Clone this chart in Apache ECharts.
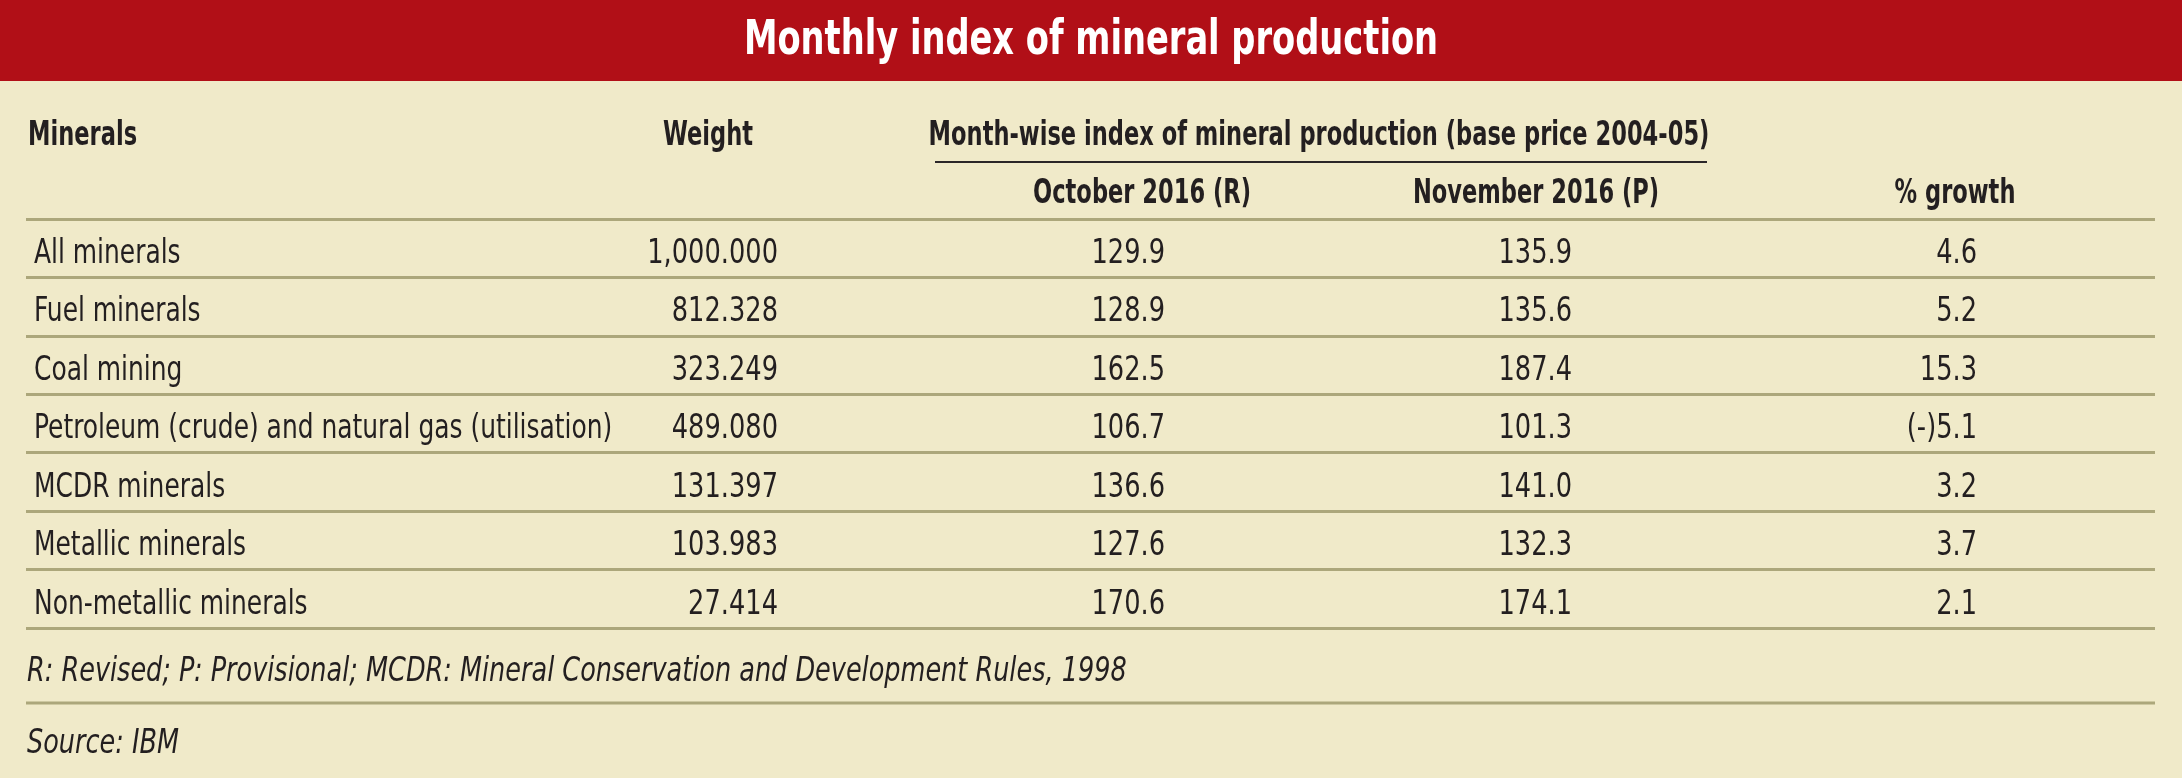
<!DOCTYPE html>
<html>
<head>
<meta charset="utf-8">
<title>Monthly index of mineral production</title>
<script src="https://cdn.jsdelivr.net/npm/echarts@6/dist/echarts.min.js"></script>
<style>
  html, body { margin: 0; padding: 0; background: #f0eac9; }
  #main { width: 2182px; height: 778px; }
</style>
</head>
<body>
<div id="main"></div>
<script>
// table data
var minerals = ['All minerals', 'Fuel minerals', 'Coal mining',
    'Petroleum (crude) and natural gas (utilisation)', 'MCDR minerals',
    'Metallic minerals', 'Non-metallic minerals'];
var weight = [1000.000, 812.328, 323.249, 489.080, 131.397, 103.983, 27.414];
var oct2016 = [129.9, 128.9, 162.5, 106.7, 136.6, 127.6, 170.6];
var nov2016 = [135.9, 135.6, 187.4, 101.3, 141.0, 132.3, 174.1];
var growth = [4.6, 5.2, 15.3, -5.1, 3.2, 3.7, 2.1];
var colHeads = ['October 2016 (R)', 'November 2016 (P)', '% growth'];

// no condensed webfont here, so squeeze DejaVu Condensed horizontally
var font = "'Liberation Sans Narrow', 'DejaVu Sans Condensed', 'Roboto', sans-serif";
var ink = '#231f20';
var rule = '#aca77b';
var labelSqueeze = 0.815, numSqueeze = 0.84, headSqueeze = 0.76, noteSqueeze = 0.86;

// column anchors (px from grid left) and text alignment
var colX = [8, 752, 1139, 1546, 1951];
var colAlign = ['left', 'right', 'right', 'right', 'right'];

function fmtWeight(v) {
    var s = v.toFixed(3).split('.');
    s[0] = s[0].replace(/\B(?=(\d{3})+(?!\d))/g, ',');
    return s.join('.');
}
function fmtGrowth(v) {
    return v < 0 ? '(-)' + Math.abs(v).toFixed(1) : v.toFixed(1);
}
function cellText(c, r) {
    if (c == 0) return minerals[r];
    if (c == 1) return fmtWeight(weight[r]);
    if (c == 2) return oct2016[r].toFixed(1);
    if (c == 3) return nov2016[r].toFixed(1);
    return fmtGrowth(growth[r]);
}

function head(text, x, y, align) {
    return {
        type: 'text', x: x, y: y, scaleX: headSqueeze,
        style: { text: text, font: 'bold 33px ' + font, fill: ink, textAlign: align, textVerticalAlign: 'middle' }
    };
}
function note(text, y) {
    return {
        type: 'text', x: 27, y: y, scaleX: noteSqueeze,
        style: { text: text, font: 'italic 33px ' + font, fill: ink, textVerticalAlign: 'middle' }
    };
}

var cells = [];
for (var r = 0; r < minerals.length; r++) {
    for (var c = 0; c < 5; c++) cells.push([c, r]);
}

var chart = echarts.init(document.getElementById('main'), null, { renderer: 'canvas' });

var option = {
    backgroundColor: '#f0eac9',
    animation: false,
    grid: { left: 26, right: 27, top: 219, height: 409 },
    xAxis: { type: 'value', min: 0, max: 2129, show: false },
    yAxis: {
        type: 'category',
        data: minerals,
        inverse: true,
        axisLine: { show: false },
        axisTick: { show: false },
        axisLabel: { show: false },
        splitLine: { show: true, lineStyle: { color: rule, width: 3 } }
    },
    graphic: [
        { type: 'rect', z: -10, shape: { x: 0, y: 0, width: 2182, height: 81 }, style: { fill: '#b10f17' } },
        {
            type: 'text', x: 1091, y: 42, scaleX: 0.78,
            style: { text: 'Monthly index of mineral production', font: 'bold 48px ' + font, fill: '#fff', textAlign: 'center', textVerticalAlign: 'middle' }
        },
        head('Minerals', 28, 136, 'left'),
        head('Weight', 708, 136, 'center'),
        head('Month-wise index of mineral production (base price 2004-05)', 1319, 136, 'center'),
        { type: 'line', shape: { x1: 935, y1: 162, x2: 1707, y2: 162 }, style: { stroke: '#2b2728', lineWidth: 2 } },
        head(colHeads[0], 1142, 194, 'center'),
        head(colHeads[1], 1536, 194, 'center'),
        head(colHeads[2], 1955, 194, 'center'),
        note('R: Revised; P: Provisional; MCDR: Mineral Conservation and Development Rules, 1998', 672),
        { type: 'line', shape: { x1: 26, y1: 703, x2: 2155, y2: 703 }, style: { stroke: rule, lineWidth: 3 } },
        note('Source: IBM', 744)
    ],
    series: [{
        type: 'custom',
        coordinateSystem: 'cartesian2d',
        data: cells,
        renderItem: function(params, api) {
            var c = api.value(0), r = api.value(1);
            var p = api.coord([colX[c], r]);
            return {
                type: 'text',
                x: p[0],
                y: p[1] + 6,
                scaleX: c == 0 ? labelSqueeze : numSqueeze,
                style: {
                    text: cellText(c, r),
                    font: '34px ' + font,
                    fill: ink,
                    align: colAlign[c],
                    verticalAlign: 'middle'
                }
            };
        }
    }]
};

chart.setOption(option);
</script>
</body>
</html>
